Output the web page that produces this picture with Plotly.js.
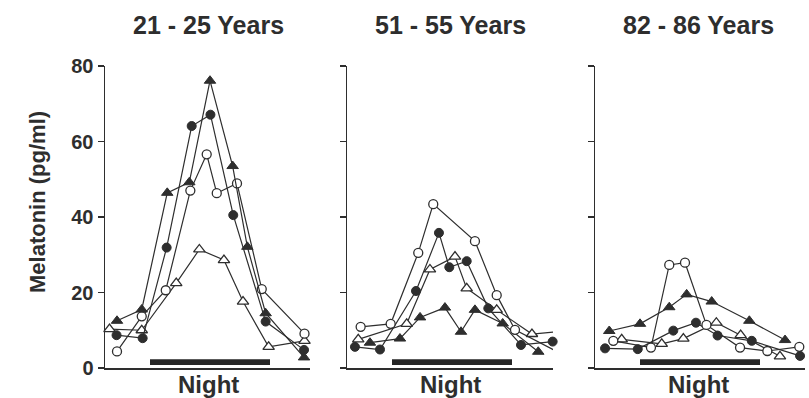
<!DOCTYPE html>
<html>
<head>
<meta charset="utf-8">
<script src="https://cdn.plot.ly/plotly-3.0.1.min.js"></script>
<style>html,body{margin:0;padding:0;background:#fff;}#chart{width:809px;height:398px;}</style>
</head>
<body>
<div id="chart"></div>
<script>
// Clock hours (24 = midnight, 30 = 6 am next day)
const panelTitles = ["21 - 25 Years", "51 - 55 Years", "82 - 86 Years"];
const nightStart = 23;
const nightEnd = 31;
const yTicks = [0, 20, 40, 60, 80];

// Panel 1: 21 - 25 years
const p1FilledTriX = [20.8, 22.45, 24.15, 25.62, 27.0, 28.51, 29.49, 30.71, 33.27];
const p1FilledTriY = [12.5, 15.5, 46.4, 49.2, 76.1, 53.5, 32.1, 14.5, 2.8];
const p1FilledCircX = [20.77, 22.51, 24.11, 25.78, 27.03, 28.55, 30.71, 33.27];
const p1FilledCircY = [8.7, 7.9, 31.9, 64.1, 67.1, 40.5, 12.3, 4.8];
const p1OpenCircX = [20.8, 22.45, 24.05, 25.69, 26.78, 27.45, 28.8, 30.45, 33.3];
const p1OpenCircY = [4.4, 13.7, 20.6, 47.0, 56.6, 46.3, 48.9, 20.9, 9.1];
const p1OpenTriX = [20.3, 22.45, 24.75, 26.29, 27.93, 29.2, 30.91, 33.3];
const p1OpenTriY = [10.3, 10.0, 22.5, 31.4, 28.6, 17.6, 5.6, 7.2];

// Panel 2: 51 - 55 years
const p2OpenCircX = [20.91, 22.91, 24.75, 25.75, 28.53, 29.98, 31.2, 33.93];
const p2OpenCircY = [10.9, 11.7, 30.5, 43.4, 33.6, 19.3, 10.1, 4.5];
const p2FilledCircX = [20.53, 22.2, 24.6, 26.13, 26.82, 27.98, 29.42, 31.6, 33.71];
const p2FilledCircY = [5.6, 4.9, 20.4, 35.8, 26.7, 28.3, 15.8, 6.1, 7.0];
const p2OpenTriX = [20.75, 23.98, 25.53, 27.2, 27.98, 29.98, 32.33, 34.05];
const p2OpenTriY = [7.6, 11.7, 26.1, 29.5, 21.1, 15.4, 9.0, 9.6];
const p2FilledTriX = [21.53, 23.53, 24.87, 26.53, 27.6, 28.53, 30.38, 32.75];
const p2FilledTriY = [6.7, 7.8, 13.4, 16.0, 9.6, 15.4, 11.8, 4.3];

// Panel 3: 82 - 86 years
const p3FilledTriX = [20.95, 23.0, 24.95, 26.11, 27.78, 30.29, 32.67];
const p3FilledTriY = [9.8, 11.7, 16.1, 19.5, 17.6, 12.5, 7.4];
const p3FilledCircX = [20.67, 22.85, 25.22, 26.73, 28.17, 30.45, 33.67];
const p3FilledCircY = [5.2, 5.0, 9.9, 12.0, 8.6, 7.2, 3.2];
const p3OpenCircX = [21.22, 23.73, 24.95, 26.0, 27.43, 29.67, 31.49, 33.62];
const p3OpenCircY = [7.2, 5.4, 27.3, 27.9, 11.4, 5.4, 4.5, 5.6];
const p3OpenTriX = [21.78, 24.45, 25.89, 28.09, 29.71, 32.33];
const p3OpenTriY = [7.6, 6.4, 7.8, 12.0, 8.7, 3.1];

const W = 809, H = 398;
const ink = '#2e2e2e';
const panelPx = [[105, 310], [347, 553], [595, 805]];
const yBottomPx = 368, yTopPx = 66;

const styles = {
  filledTri: {symbol: 'triangle-up', size: 10, color: ink, line: {color: ink, width: 1}},
  filledCirc: {symbol: 'circle', size: 9, color: ink, line: {color: ink, width: 1}},
  openCirc: {symbol: 'circle', size: 9, color: '#ffffff', line: {color: ink, width: 1.3}},
  openTri: {symbol: 'triangle-up', size: 10, color: '#ffffff', line: {color: ink, width: 1.3}}
};

function tr(x, y, style, ax) {
  return {
    x: x, y: y, type: 'scatter', mode: 'lines+markers',
    xaxis: 'x' + (ax === 1 ? '' : ax), yaxis: 'y' + (ax === 1 ? '' : ax),
    line: {color: ink, width: 1.2},
    marker: styles[style], cliponaxis: false, showlegend: false, hoverinfo: 'skip'
  };
}

const data = [
  tr(p1OpenTriX, p1OpenTriY, 'openTri', 1),
  tr(p1OpenCircX, p1OpenCircY, 'openCirc', 1),
  tr(p1FilledCircX, p1FilledCircY, 'filledCirc', 1),
  tr(p1FilledTriX, p1FilledTriY, 'filledTri', 1),
  tr(p2FilledTriX, p2FilledTriY, 'filledTri', 2),
  tr(p2OpenTriX, p2OpenTriY, 'openTri', 2),
  tr(p2FilledCircX, p2FilledCircY, 'filledCirc', 2),
  tr(p2OpenCircX, p2OpenCircY, 'openCirc', 2),
  tr(p3OpenTriX, p3OpenTriY, 'openTri', 3),
  tr(p3FilledCircX, p3FilledCircY, 'filledCirc', 3),
  tr(p3FilledTriX, p3FilledTriY, 'filledTri', 3),
  tr(p3OpenCircX, p3OpenCircY, 'openCirc', 3)
];

const font = {family: '"Liberation Sans", Arial, Helvetica, sans-serif', color: ink};
const layout = {
  width: W, height: H,
  margin: {l: 0, r: 0, t: 0, b: 0},
  paper_bgcolor: '#ffffff', plot_bgcolor: 'rgba(0,0,0,0)',
  font: font,
  showlegend: false,
  shapes: [],
  annotations: []
};

const yDom = [(H - yBottomPx) / H, (H - yTopPx) / H];
panelPx.forEach((p, i) => {
  const k = i === 0 ? '' : String(i + 1);
  layout['xaxis' + k] = {
    domain: [p[0] / W, p[1] / W],
    range: [20, 20 + (p[1] - p[0]) / 15],
    showline: true, linecolor: ink, linewidth: 1.5,
    ticks: '', showticklabels: false, showgrid: false, zeroline: false,
    anchor: 'y' + k, fixedrange: true
  };
  layout['yaxis' + k] = {
    domain: yDom, range: [0, 80],
    tickvals: yTicks, ticktext: yTicks.map(String),
    showticklabels: i === 0,
    ticks: 'outside', ticklen: 6, tickwidth: 1.5, tickcolor: ink,
    tickfont: {family: font.family, size: 20, color: ink, weight: 'bold'},
    showline: true, linecolor: ink, linewidth: 1.5,
    showgrid: false, zeroline: false, anchor: 'x' + k, fixedrange: true
  };
  layout.shapes.push({
    type: 'rect', xref: 'x' + k, yref: 'y' + k,
    x0: nightStart, x1: nightEnd, y0: 0.8, y1: 2.3,
    fillcolor: '#262626', line: {width: 0}
  });
  const cx = (p[0] + 43 + p[0] + 164) / 2 / W;
  layout.annotations.push({
    text: '<b>' + panelTitles[i] + '</b>', xref: 'paper', yref: 'paper',
    x: cx, y: (H - 25) / H, xanchor: 'center', yanchor: 'middle',
    showarrow: false, font: {family: font.family, size: 25, color: ink}
  });
  layout.annotations.push({
    text: '<b>Night</b>', xref: 'paper', yref: 'paper',
    x: cx, y: 0, xanchor: 'center', yanchor: 'bottom', yshift: -2,
    showarrow: false, font: {family: font.family, size: 24, color: ink}
  });
});
layout.annotations.push({
  text: '<b>Melatonin (pg/ml)</b>', xref: 'paper', yref: 'paper',
  x: 37 / W, y: (H - 202) / H, xanchor: 'center', yanchor: 'middle',
  textangle: -90, showarrow: false, font: {family: font.family, size: 22, color: ink}
});

Plotly.newPlot('chart', data, layout, {staticPlot: true, displayModeBar: false});
</script>
</body>
</html>
